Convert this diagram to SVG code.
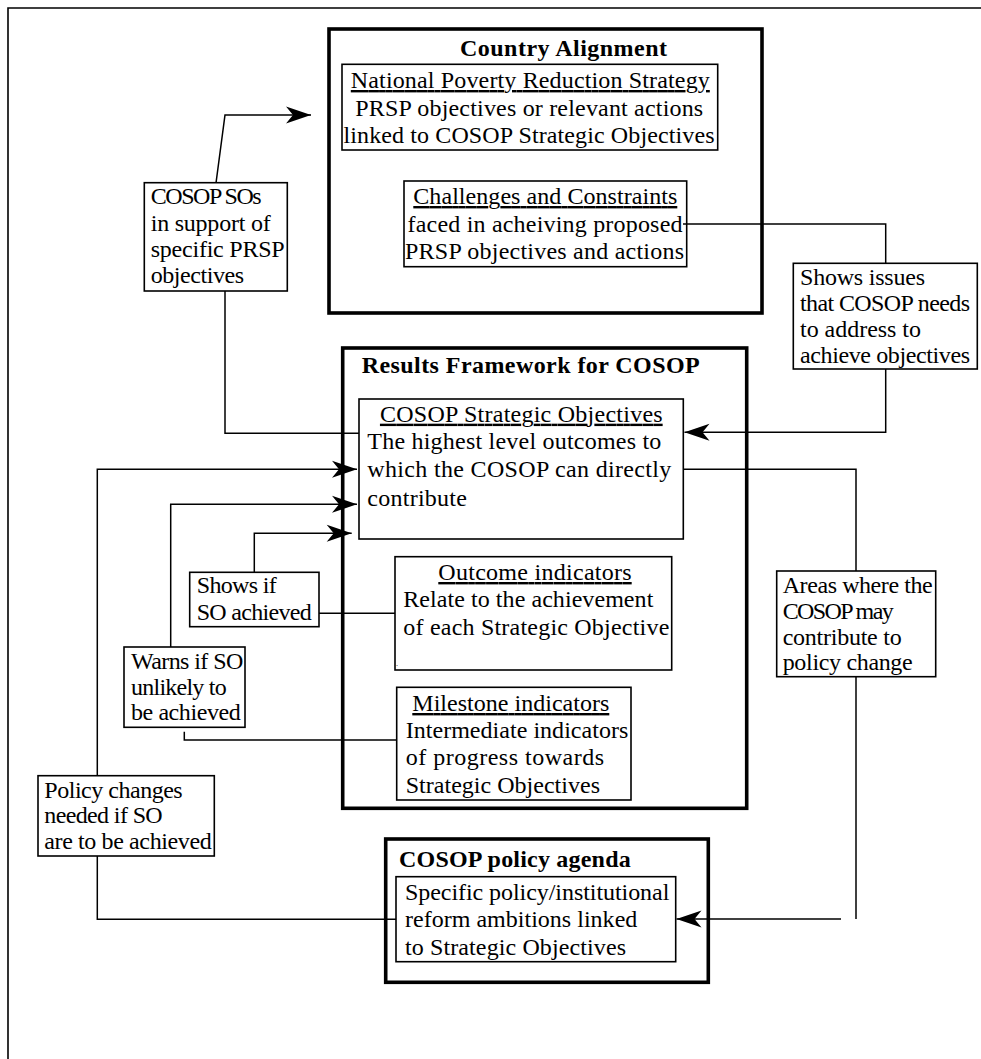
<svg xmlns="http://www.w3.org/2000/svg" width="981" height="1059" viewBox="0 0 981 1059">
<style>
.frame{fill:none;stroke:#000;stroke-width:1.6}
.thick{fill:#fff;stroke:#000;stroke-width:3.6}
.thin{fill:#fff;stroke:#000;stroke-width:1.6}
.conn{fill:none;stroke:#000;stroke-width:1.5}
text{font-family:"Liberation Serif","Times New Roman",serif;font-size:24px;fill:#000}
.b{font-weight:bold}
.u{text-decoration:underline}
.c{text-anchor:middle}
</style>
<defs>
<marker id="ah" viewBox="-26 -10 28 20" refX="0" refY="0" markerWidth="28" markerHeight="20" markerUnits="userSpaceOnUse" orient="auto">
<path d="M0,0 L-25,-8.5 L-18,0 L-25,8.5 Z" fill="#000"/>
</marker>
</defs>
<rect width="981" height="1059" fill="#fff"/>
<g id="frame">
<path class="frame" d="M8,1059 V8 H981"/>
</g>
<g id="country-alignment">
<rect class="thick" x="329" y="29" width="433" height="284"/>
<text class="b" x="460" y="56" textLength="207" lengthAdjust="spacing">Country Alignment</text>
</g>
<g id="nprs">
<rect class="thin" x="342" y="64.3" width="375.7" height="85.7"/>
<text class="c u" x="530.3" y="88" textLength="359" lengthAdjust="spacing">National Poverty Reduction Strategy</text>
<text class="c" x="529.2" y="116" textLength="348" lengthAdjust="spacing">PRSP objectives or relevant actions</text>
<text class="c" x="529" y="143" textLength="371" lengthAdjust="spacing">linked to COSOP Strategic Objectives</text>
</g>
<g id="challenges">
<rect class="thin" x="404" y="181" width="282.7" height="85.7"/>
<text class="c u" x="545.3" y="204" textLength="264" lengthAdjust="spacing">Challenges and Constraints</text>
<text class="c" x="545" y="232" textLength="275" lengthAdjust="spacing">faced in acheiving proposed</text>
<text class="c" x="544.5" y="259" textLength="279" lengthAdjust="spacing">PRSP objectives and actions</text>
</g>
<g id="results-framework">
<rect class="thick" x="342.7" y="348" width="404" height="460.3"/>
<text class="b" x="361.7" y="373.3" textLength="338" lengthAdjust="spacing">Results Framework for COSOP</text>
</g>
<g id="policy-agenda">
<rect class="thick" x="385.7" y="839" width="322.6" height="143.3"/>
<text class="b" x="399" y="866.7" textLength="231.7" lengthAdjust="spacing">COSOP policy agenda</text>
</g>
<g id="connectors">
<path class="conn" d="M216,183 L225,115 H311" marker-end="url(#ah)"/>
<path class="conn" d="M225,291 V433.3 H359"/>
<path class="conn" d="M683,224 H885.7 V263.3"/>
<path class="conn" d="M885.7,369 V432.3 H684.5" marker-end="url(#ah)"/>
<path class="conn" d="M683.3,469.3 H856 V571"/>
<path class="conn" d="M856,676.7 V919"/>
<path class="conn" d="M841,919 H676.5" marker-end="url(#ah)"/>
<path class="conn" d="M396,919.3 H97.3 V856"/>
<path class="conn" d="M97.3,775.7 V469.3 H357" marker-end="url(#ah)"/>
<path class="conn" d="M396.7,740 H184.3 V731.7"/>
<path class="conn" d="M170.7,647 V504.3 H357" marker-end="url(#ah)"/>
<path class="conn" d="M395.3,613.3 H319"/>
<path class="conn" d="M254.3,572.3 V533.3 H351.7" marker-end="url(#ah)"/>
</g>
<g id="cosop-sos">
<rect class="thin" x="144.3" y="182.7" width="143" height="108.3"/>
<text x="150.7" y="204" textLength="111" lengthAdjust="spacing">COSOP SOs</text>
<text x="150.7" y="230.7" textLength="120" lengthAdjust="spacing">in support of</text>
<text x="150.7" y="256.7" textLength="134" lengthAdjust="spacing">specific PRSP</text>
<text x="150.7" y="282.7" textLength="93.3" lengthAdjust="spacing">objectives</text>
</g>
<g id="shows-issues">
<rect class="thin" x="793.3" y="263.3" width="184" height="105.7"/>
<text x="800" y="285" textLength="125" lengthAdjust="spacing">Shows issues</text>
<text x="800" y="310.7" textLength="170" lengthAdjust="spacing">that COSOP needs</text>
<text x="800" y="336.7" textLength="121" lengthAdjust="spacing">to address to</text>
<text x="800" y="362.7" textLength="170" lengthAdjust="spacing">achieve objectives</text>
</g>
<g id="cosop-strategic-objectives">
<rect class="thin" x="359" y="399" width="324.3" height="140"/>
<text class="c u" x="521.3" y="421.7" textLength="282.7" lengthAdjust="spacing">COSOP Strategic Objectives</text>
<text x="367.3" y="449.3" textLength="294" lengthAdjust="spacing">The highest level outcomes to</text>
<text x="367.3" y="477.3" textLength="304" lengthAdjust="spacing">which the COSOP can directly</text>
<text x="367.3" y="505.7" textLength="99.6" lengthAdjust="spacing">contribute</text>
</g>
<g id="shows-if">
<rect class="thin" x="189.7" y="572.3" width="129.3" height="54.4"/>
<text x="196.7" y="593.3" textLength="80" lengthAdjust="spacing">Shows if</text>
<text x="196.7" y="620" textLength="115" lengthAdjust="spacing">SO achieved</text>
</g>
<g id="outcome-indicators">
<rect class="thin" x="395" y="556.7" width="276.7" height="113.3"/>
<text class="c u" x="535" y="580" textLength="193.4" lengthAdjust="spacing">Outcome indicators</text>
<text x="403.3" y="607.3" textLength="250" lengthAdjust="spacing">Relate to the achievement</text>
<text x="403.3" y="635" textLength="266" lengthAdjust="spacing">of each Strategic Objective</text>
<text x="396" y="666" style="font-size:8px">.</text>
</g>
<g id="warns">
<rect class="thin" x="124" y="647" width="121" height="80.3"/>
<text x="131" y="669.3" textLength="112.3" lengthAdjust="spacing">Warns if SO</text>
<text x="131" y="695" textLength="95.7" lengthAdjust="spacing">unlikely to</text>
<text x="131" y="720" textLength="109.7" lengthAdjust="spacing">be achieved</text>
</g>
<g id="milestone-indicators">
<rect class="thin" x="396.7" y="687.3" width="234.3" height="112.7"/>
<text class="c u" x="510.8" y="711" textLength="197" lengthAdjust="spacing">Milestone indicators</text>
<text x="405.7" y="738.3" textLength="222.6" lengthAdjust="spacing">Intermediate indicators</text>
<text x="405.7" y="765" textLength="198.3" lengthAdjust="spacing">of progress towards</text>
<text x="405.7" y="793.3" textLength="194.3" lengthAdjust="spacing">Strategic Objectives</text>
</g>
<g id="areas">
<rect class="thin" x="776.7" y="571" width="159" height="105.7"/>
<text x="782.7" y="593.3" textLength="150" lengthAdjust="spacing">Areas where the</text>
<text x="782.7" y="619" textLength="111" lengthAdjust="spacing">COSOP may</text>
<text x="782.7" y="645" textLength="119" lengthAdjust="spacing">contribute to</text>
<text x="782.7" y="670" textLength="130" lengthAdjust="spacing">policy change</text>
</g>
<g id="policy-changes">
<rect class="thin" x="38" y="775.7" width="176.3" height="80.3"/>
<text x="44.3" y="797.7" textLength="138.4" lengthAdjust="spacing">Policy changes</text>
<text x="44.3" y="823.3" textLength="118.4" lengthAdjust="spacing">needed if SO</text>
<text x="44.3" y="849.3" textLength="167.4" lengthAdjust="spacing">are to be achieved</text>
</g>
<g id="policy-reform">
<rect class="thin" x="396" y="876.7" width="279.7" height="85"/>
<text x="405" y="900" textLength="264.3" lengthAdjust="spacing">Specific policy/institutional</text>
<text x="405" y="927.3" textLength="232.3" lengthAdjust="spacing">reform ambitions linked</text>
<text x="405" y="955" textLength="221" lengthAdjust="spacing">to Strategic Objectives</text>
</g>
</svg>
